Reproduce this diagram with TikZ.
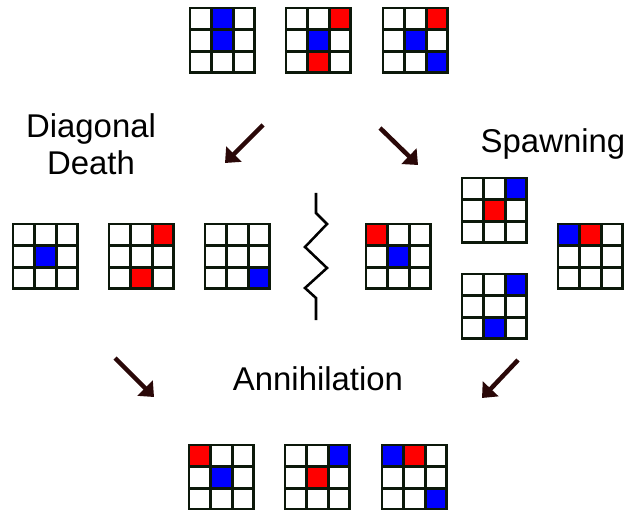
\documentclass[tikz,border=0pt]{standalone}
\usepackage{fontspec}
\setmainfont{Liberation Sans}
\usetikzlibrary{arrows.meta}
\definecolor{gridline}{RGB}{12,24,10}
\definecolor{arrowbrown}{RGB}{42,8,8}
\tikzset{
    cellline/.style={line width=2pt, draw=gridline, line cap=rect},
    bigarrow/.style={line width=3.2pt, draw=arrowbrown, fill=arrowbrown,
        -{Triangle[length=9pt, width=15pt]}},
    phase/.style={font=\fontsize{23.4}{27}\selectfont, align=center, inner sep=0pt},
}
\begin{document}
\begin{tikzpicture}[x=0.025cm, y=-0.025cm]
    \useasboundingbox (0, 0) rectangle (636, 510);
    % boards: top left corner, then the coloured cells as column/row/colour
    \foreach \bx/\by/\cells in {
        190/8/{1/0/blue, 1/1/blue},
        286/8/{2/0/red, 1/1/blue, 1/2/red},
        383/8/{2/0/red, 1/1/blue, 2/2/blue},
        13/224/{1/1/blue},
        109/224/{2/0/red, 1/2/red},
        205/224/{2/2/blue},
        366/224/{0/0/red, 1/1/blue},
        462/178/{2/0/blue, 1/1/red},
        462/274/{2/0/blue, 1/2/blue},
        558/224/{0/0/blue, 1/0/red},
        189/445/{0/0/red, 1/1/blue},
        285/445/{2/0/blue, 1/1/red},
        382/445/{0/0/blue, 1/0/red, 2/2/blue}} {
        \begin{scope}[shift={(\bx, \by)}]
            \foreach \c/\r/\col in \cells {
                \fill[\col] (\c*21.6, \r*21.6) rectangle ++(21.6, 21.6);
            }
            \foreach \i in {0, 1, 2, 3} {
                \draw[cellline] (\i*21.6, 0) -- (\i*21.6, 64.8);
                \draw[cellline] (0, \i*21.6) -- (64.8, \i*21.6);
            }
        \end{scope}
    }
    % labels
    \node[phase, anchor=base] (diagonal) at (91, 175) {Diagonal\\Death};
    \node[phase, anchor=base] (spawning) at (553, 153) {Spawning};
    \node[phase, anchor=base] (annihilation) at (318, 390) {Annihilation};
    % arrows
    \coordinate (diagtail) at (263, 125);
    \coordinate (diaghead) at (225, 163);
    \coordinate (spawntail) at (380, 128);
    \coordinate (spawnhead) at (418, 165);
    \coordinate (annltail) at (115, 358);
    \coordinate (annlhead) at (154, 397);
    \coordinate (annrtail) at (518, 360);
    \coordinate (annrhead) at (482, 398);
    \draw[bigarrow] (diagtail) -- (diaghead);
    \draw[bigarrow] (spawntail) -- (spawnhead);
    \draw[bigarrow] (annltail) -- (annlhead);
    \draw[bigarrow] (annrtail) -- (annrhead);
    % break between the two halves
    \draw[line width=1.8pt, line join=miter] (316, 193) -- (316, 213) -- (327, 224)
        -- (305, 247) -- (327, 268) -- (305, 288) -- (316, 298) -- (316, 320);
\end{tikzpicture}
\end{document}
